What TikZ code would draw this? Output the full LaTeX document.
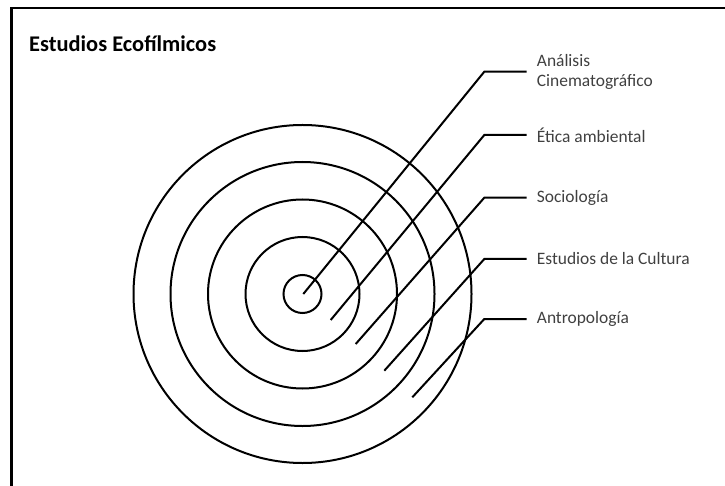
\documentclass[tikz,border=0pt]{standalone}
\usepackage{fontspec}
\setmainfont{Carlito}
\usetikzlibrary{positioning}
\definecolor{labelgray}{HTML}{404040}
\tikzset{
  ring/.style={circle,draw,line width=2bp,inner sep=0},
  leader/.style={line width=2bp},
  fieldlabel/.style={anchor=west,inner xsep=10bp,inner ysep=0,text=labelgray,
    font=\fontsize{17.5}{20}\selectfont,align=left},
}
\newcommand{\Ring}[2]% radius, name
{\node[ring,minimum size=#1*2bp] (#2) at (c) {};
}
\newcommand{\Leader}[4]% start, y, name, text
{\coordinate (#3s) at #1;
  \node[fieldlabel] (#3) at (526.7,#2) {#4};
  \draw[leader] (#3s) -- (484.3,#2) -- (#3.west);
}

\begin{document}
\begin{tikzpicture}[x=1bp,y=-1bp]
      \useasboundingbox (0,0) rectangle (725,486);
      % frame, cut by the page edge
      \draw[line width=2.5bp] (11.5,490) -- (11.5,8) -- (730,8);
      \node[anchor=west,inner sep=0,font=\fontsize{22.5}{24}\selectfont\bfseries] (title) at (29,44) {Estudios Ecofílmicos};
      \coordinate (c) at (302.5,294);
      \Ring{19}{r1}
      \Ring{57}{r2}
      \Ring{94.5}{r3}
      \Ring{132}{r4}
      \Ring{169}{r5}
      \Leader{(303.3,294)}{71.7}{cine}{Análisis\\Cinematográfico}
      \Leader{(330.7,320)}{135}{etica}{Ética ambiental}
      \Leader{(355.7,344)}{197.7}{socio}{Sociología}
      \Leader{(384.3,370.7)}{259}{cultura}{Estudios de la Cultura}
      \Leader{(412.3,397.3)}{319}{antro}{Antropología}
    \end{tikzpicture}
\end{document}
